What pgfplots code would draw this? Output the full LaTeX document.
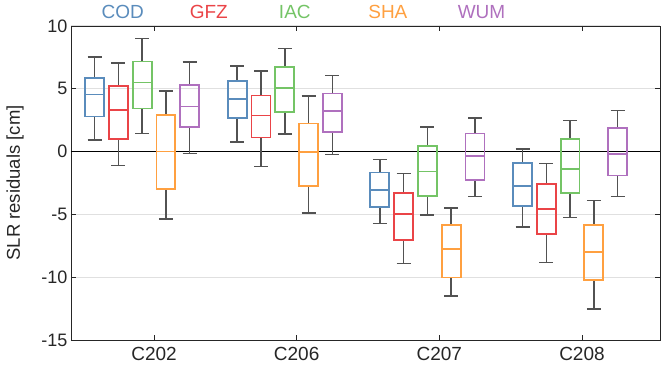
\documentclass[border=0pt]{standalone}
\usepackage{pgfplots}
\pgfplotsset{compat=1.18}
\usepgfplotslibrary{statistics}
\usepackage{fontspec}
\setmainfont{Liberation Sans}
\definecolor{codc}{HTML}{5A8CBC}
\definecolor{gfzc}{HTML}{EA4447}
\definecolor{iacc}{HTML}{74C466}
\definecolor{shac}{HTML}{FFA040}
\definecolor{wumc}{HTML}{AF70BE}
\definecolor{axc}{HTML}{262626}
\newcommand{\bp}[7]{\addplot[draw=#1, line width=1.8pt, boxplot prepared={draw position=#2, lower whisker=#3, lower quartile=#4, median=#5, upper quartile=#6, upper whisker=#7, box extend=0.133, whisker extend=0.098}, boxplot/every whisker/.style={draw=black!68, line width=1.6pt}] coordinates {};}
\begin{document}
\begin{tikzpicture}
\begin{axis}[
 scale only axis, width=589pt, height=314pt,
 xmin=0.418, xmax=4.547, ymin=-15, ymax=10,
 xtick={1,2,3,4}, xticklabels={C202,C206,C207,C208},
 ytick={-15,-10,-5,0,5,10},
 /pgf/number format/assume math mode=true,
 tick align=inside, major tick length=5pt,
 ymajorgrids, grid style={color=black!12, line width=1pt},
 axis line style={color=axc, line width=0.8pt},
 tick style={color=axc, line width=0.8pt},
 xticklabel style={font=\fontsize{19}{19}\selectfont, text=axc, yshift=-4pt},
 yticklabel style={font=\fontsize{18}{18}\selectfont, text=axc},
 ylabel={SLR residuals [cm]},
 ylabel style={font=\fontsize{18.5}{18.5}\selectfont, text=axc, at={(axis description cs:-0.095,0.5)}, anchor=center},
 clip=false,
 boxplot/draw direction=y,
]
\path (rel axis cs:0,0) ++(-71pt,-40pt) rectangle ++(663pt,380pt);
\addplot[black, line width=1pt] coordinates {(0.418,0) (4.547,0)};
% C202
\bp{codc}{0.5833}{0.91}{2.79}{4.55}{5.88}{7.53}
\bp{gfzc}{0.75}{-1.12}{0.99}{3.33}{5.24}{7.05}
\bp{iacc}{0.9167}{1.44}{3.43}{5.50}{7.18}{9.01}
\bp{shac}{1.0833}{-5.39}{-3.0}{0.0}{2.93}{4.82}
\bp{wumc}{1.25}{-0.16}{1.97}{3.59}{5.32}{7.15}
% C206
\bp{codc}{1.5833}{0.77}{2.66}{4.20}{5.61}{6.83}
\bp{gfzc}{1.75}{-1.20}{1.12}{2.87}{4.47}{6.44}
\bp{iacc}{1.9167}{1.39}{3.17}{5.06}{6.73}{8.21}
\bp{shac}{2.0833}{-4.89}{-2.71}{-0.05}{2.23}{4.44}
\bp{wumc}{2.25}{-0.24}{1.57}{3.22}{4.63}{6.06}
% C207
\bp{codc}{2.5833}{-5.74}{-4.39}{-3.05}{-1.67}{-0.64}
\bp{gfzc}{2.75}{-8.90}{-7.04}{-4.97}{-3.29}{-1.75}
\bp{iacc}{2.9167}{-5.07}{-3.56}{-1.59}{0.45}{1.95}
\bp{shac}{3.0833}{-11.48}{-10.02}{-7.76}{-5.82}{-4.51}
\bp{wumc}{3.25}{-3.56}{-2.28}{-0.37}{1.44}{2.69}
% C208
\bp{codc}{3.5833}{-5.98}{-4.33}{-2.71}{-0.93}{0.22}
\bp{gfzc}{3.75}{-8.82}{-6.59}{-4.60}{-2.60}{-0.96}
\bp{iacc}{3.9167}{-5.26}{-3.29}{-1.38}{0.99}{2.47}
\bp{shac}{4.0833}{-12.52}{-10.23}{-8.02}{-5.82}{-3.88}
\bp{wumc}{4.25}{-3.56}{-1.91}{-0.16}{1.89}{3.27}
\node[font=\fontsize{19}{19}\selectfont, text=codc, anchor=base] at (rel axis cs:0.0878,1) [yshift=7pt] {COD};
\node[font=\fontsize{19}{19}\selectfont, text=gfzc, anchor=base] at (rel axis cs:0.234,1) [yshift=7pt] {GFZ};
\node[font=\fontsize{19}{19}\selectfont, text=iacc, anchor=base] at (rel axis cs:0.380,1) [yshift=7pt] {IAC};
\node[font=\fontsize{19}{19}\selectfont, text=shac, anchor=base] at (rel axis cs:0.538,1) [yshift=7pt] {SHA};
\node[font=\fontsize{19}{19}\selectfont, text=wumc, anchor=base] at (rel axis cs:0.697,1) [yshift=7pt] {WUM};
\end{axis}
\end{tikzpicture}
\end{document}
